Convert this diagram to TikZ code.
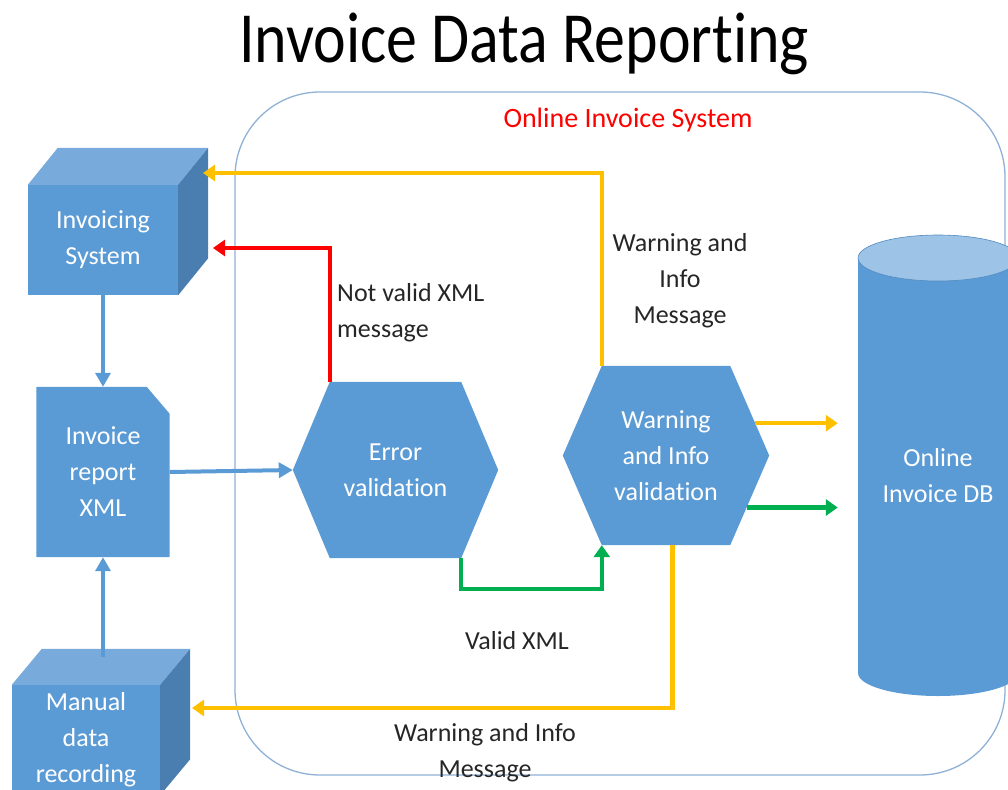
\documentclass[tikz,border=0pt]{standalone}
\usepackage{fontspec}
\setmainfont{Carlito}[RawFeature={-liga;-clig;-calt;-dlig}]
\newfontfamily\headfont{Carlito}[FakeStretch=0.86, RawFeature={-liga;-clig;-calt;-dlig}]
\usetikzlibrary{arrows.meta,calc}
\pgfdeclarelayer{shapes}
\pgfsetlayers{shapes,main}

\definecolor{boxblue}{HTML}{5B9BD5}
\definecolor{topblue}{HTML}{78AADB}
\definecolor{sideblue}{HTML}{4A7DB0}
\definecolor{cyltop}{HTML}{9DC3E6}
\definecolor{framecol}{HTML}{8FB1D6}
\definecolor{ylw}{HTML}{FFC000}
\definecolor{rd}{HTML}{FF0000}
\definecolor{grn}{HTML}{00B050}

% hexagon around a rectangular holder node; #2 = inset of the flat top/bottom
\newcommand\hexfill[2]{%
  \coordinate (#1TL) at ($(#1.north west)+(#2,0)$);
  \coordinate (#1TR) at ($(#1.north east)+(-#2,0)$);
  \coordinate (#1BL) at ($(#1.south west)+(#2,0)$);
  \coordinate (#1BR) at ($(#1.south east)+(-#2,0)$);
  \begin{pgfonlayer}{shapes}
    \fill[boxblue] (#1.west) -- (#1TL) -- (#1TR) -- (#1.east) -- (#1BR) -- (#1BL) -- cycle;
  \end{pgfonlayer}}

% box drawn in perspective: front face is the node, depth #2 right, #3 up
\newcommand\cubefill[3]{%
  \begin{pgfonlayer}{shapes}
    \fill[boxblue] (#1.north west) rectangle (#1.south east);
    \fill[topblue] (#1.north west) -- ++(#2,-#3) -- ($(#1.north east)+(#2,-#3)$) -- (#1.north east) -- cycle;
    \fill[sideblue] (#1.north east) -- ++(#2,-#3) -- ($(#1.south east)+(#2,-#3)$) -- (#1.south east) -- cycle;
  \end{pgfonlayer}}

\begin{document}
\begin{tikzpicture}[x=1pt,y=-1pt,
  shapetext/.style={text=white, align=center, inner sep=0pt,
    font=\fontsize{26}{36}\selectfont},
  lbl/.style={text=black!85, inner sep=0pt, font=\fontsize{26}{36}\selectfont},
  bluearrow/.style={draw=boxblue, line width=4pt, -{Triangle[length=14pt,width=15pt]}},
  colarrow/.style={line width=4.5pt, -{Triangle[length=12pt,width=16pt]}},
  ]
\useasboundingbox (0,0) rectangle (1008,789);

% system frame
\begin{pgfonlayer}{shapes}
  \draw[framecol, line width=1.3pt, rounded corners=85pt] (235,92) rectangle (1005,775);
\end{pgfonlayer}

% title and frame caption
\node[anchor=base] (title) at (524,63) {\headfont\fontsize{72}{72}\selectfont Invoice Data Reporting};
\node[text=rd, inner sep=0pt, font=\fontsize{28}{32}\selectfont] (sys) at (628,120) {Online Invoice System};

% invoicing system (box)
\node[shapetext, minimum width=150pt, minimum height=110pt] (inv) at (103,240) {Invoicing\\System};
\cubefill{inv}{30}{37}

% manual data recording (box)
\node[shapetext, minimum width=148pt, minimum height=110pt] (man) at (86,740) {Manual\\data\\recording};
\cubefill{man}{30}{36}
\coordinate (manTop) at ($(man.north)+(0,-28)$);

% invoice report document
\node[shapetext, minimum width=133pt, minimum height=170pt] (doc) at (103,472) {Invoice\\report\\XML};
\begin{pgfonlayer}{shapes}
  \fill[boxblue] (doc.north west) -- ($(doc.north east)+(-23,0)$) -- ($(doc.north east)+(0,27)$)
    -- (doc.south east) -- (doc.south west) -- cycle;
\end{pgfonlayer}

% validation steps
\node[shapetext, minimum width=205pt, minimum height=176pt] (err) at (395.5,470) {Error\\validation};
\hexfill{err}{37}
\node[shapetext, minimum width=206pt, minimum height=179pt] (warn) at (666,455.5) {Warning\\and Info\\validation};
\hexfill{warn}{39}

% online invoice database (cylinder)
\begin{pgfonlayer}{shapes}
  \fill[boxblue] (858,258) rectangle (1018,673);
  \fill[boxblue] (938,673) ellipse [x radius=80, y radius=23];
  \fill[cyltop, draw=boxblue!90!black, line width=0.6pt] (938,258) ellipse [x radius=80, y radius=23];
\end{pgfonlayer}
\node[shapetext, minimum width=160pt, minimum height=415pt] (db) at (938,476) {Online\\Invoice DB};

% connector end points at the boxes
\coordinate (redEnd) at (213,248);
\coordinate (ylwEnd) at (203,173);
\coordinate (manEnd) at (192,708);

% data flow
\draw[bluearrow] (inv.south) -- (doc.north);
\draw[bluearrow] (doc.south |- manTop) -- (doc.south);
\draw[bluearrow] (doc.east) -- (err.west);

\draw[colarrow, draw=rd] (errTL) |- (redEnd);
\draw[colarrow, draw=grn] (errBR) -- ++(0,31) -| (warnBL);
\draw[colarrow, draw=ylw] (warnTL) |- (ylwEnd);
\coordinate (wY) at ($(warnTR)!0.64!(warn.east)$);
\coordinate (wG) at ($(warn.east)!0.58!(warnBR)$);
\draw[colarrow, draw=ylw, shorten >=20pt] (wY) -- (wY -| db.west);
\draw[colarrow, draw=grn, shorten >=20pt] (wG) -- (wG -| db.west);
\coordinate (wB) at ($(warnBL)!0.55!(warnBR)$);
\draw[colarrow, draw=ylw] (wB) |- (manEnd);

% connector labels
\node[lbl, align=left, anchor=west] (notvalid) at (337,313) {Not valid XML\\message};
\node[lbl, align=center] (winfo1) at (680,281) {Warning and\\Info\\Message};
\node[lbl] (validxml) at (517,641) {Valid XML};
\node[lbl, align=center] (winfo2) at (485,753) {Warning and Info\\Message};
\end{tikzpicture}
\end{document}
